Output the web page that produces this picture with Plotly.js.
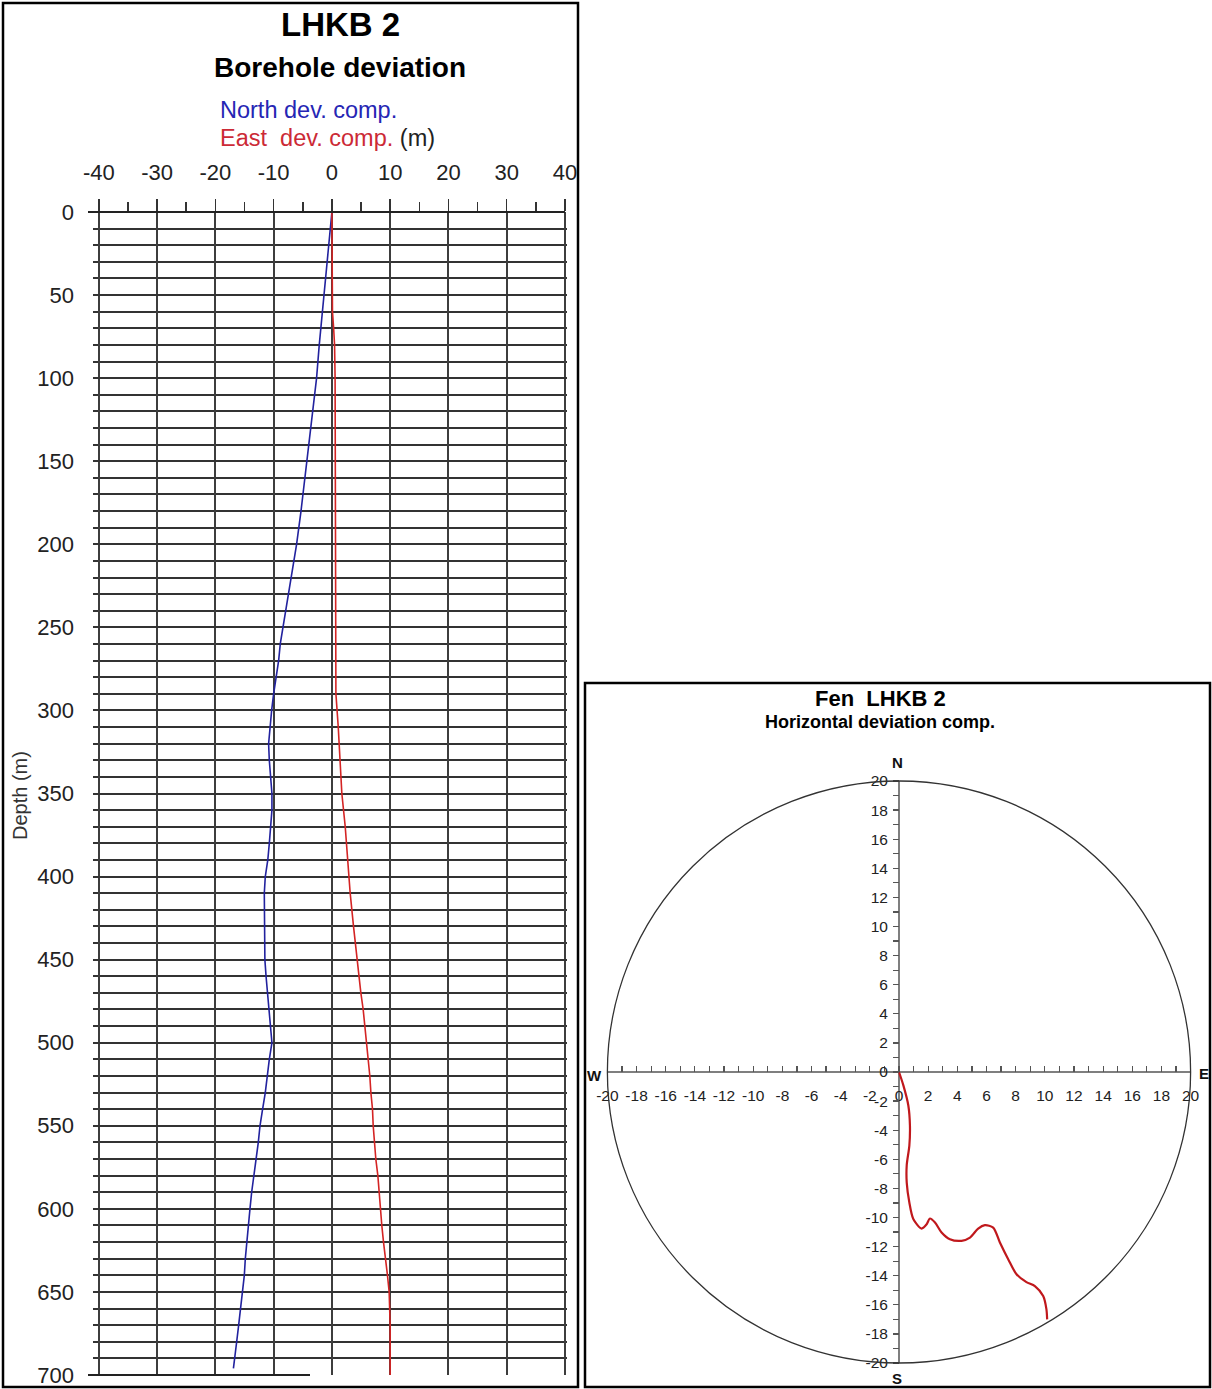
<!DOCTYPE html>
<html>
<head>
<meta charset="utf-8">
<script src="https://cdn.plot.ly/plotly-3.0.1.min.js"></script>
<style>html,body{margin:0;padding:0;background:#fff;}#chart{width:1212px;height:1389px;}</style>
</head>
<body>
<div id="chart"></div>
<script>
// ---- Left panel: deviation components vs depth ----
const depthNorth = [0,20,40,60,80,100,120,140,160,180,200,220,240,250,260,270,280,290,300,310,320,330,340,350,360,370,380,390,400,410,420,430,440,450,460,470,480,490,500,510,520,530,540,550,560,570,580,590,600,610,620,630,640,650,660,670,680,690,696];
const northDev = [0,-0.57,-1.03,-1.6,-2.17,-2.63,-3.3,-4.0,-4.57,-5.3,-6.06,-7.03,-7.9,-8.46,-8.86,-9.14,-9.6,-10.0,-10.34,-10.57,-10.86,-10.74,-10.46,-10.29,-10.29,-10.46,-10.74,-11.0,-11.43,-11.6,-11.6,-11.6,-11.6,-11.5,-11.3,-11.03,-10.74,-10.46,-10.29,-10.74,-11.03,-11.43,-11.89,-12.34,-12.63,-13.03,-13.43,-13.77,-14.06,-14.34,-14.63,-14.86,-15.03,-15.31,-15.6,-16.0,-16.34,-16.74,-16.9];
const depthEast = [0,60,70,80,100,150,200,240,270,290,310,330,350,370,390,410,430,450,470,480,490,500,510,520,530,540,550,560,570,580,590,600,610,620,630,640,650,660,670,700];
const eastDev = [0,0.1,0.3,0.46,0.55,0.57,0.6,0.6,0.69,0.69,1.09,1.37,1.71,2.29,2.69,3.14,3.71,4.29,4.97,5.37,5.66,6.0,6.29,6.51,6.69,6.97,7.09,7.31,7.54,7.89,8.11,8.29,8.57,8.86,9.26,9.54,9.83,9.94,10.0,10.0];

// ---- Right panel: plan view (East vs North) ----
const planEast = [0,0.3,0.64,0.75,0.71,0.53,0.53,0.71,0.98,1.55,1.9,2.12,2.47,2.92,3.49,4.29,4.87,5.43,5.89,6.46,6.92,7.49,8.06,8.74,9.32,9.89,10.11,10.16];
const planNorth = [0,-0.92,-2.3,-3.7,-5.06,-6.4,-7.6,-8.97,-10.1,-10.76,-10.46,-10.07,-10.34,-11.03,-11.49,-11.6,-11.38,-10.76,-10.53,-10.69,-11.72,-12.87,-13.9,-14.44,-14.71,-15.4,-16.3,-17.0];

// ---- tick labels ----
const devTickVals = [-40,-30,-20,-10,0,10,20,30,40];
const devTickText = ['-40','-30','-20','-10','0','10','20','30','40'];
const planTickVals = [-20,-18,-16,-14,-12,-10,-8,-6,-4,-2,0,2,4,6,8,10,12,14,16,18,20];
const planTickText = ['-20','-18','-16','-14','-12','-10','-8','-6','-4','-2','0','2','4','6','8','10','12','14','16','18','20'];

// text
const leftTitle = "LHKB 2";
const leftSubtitle = "Borehole deviation";
const northLabel = "North dev. comp.";
const eastLabel = "East  dev. comp.";
const unitLabel = "(m)";
const depthTitle = "Depth (m)";
const rightTitle = "Fen  LHKB 2";
const rightSubtitle = "Horizontal deviation comp.";
const compass = ["N", "S", "W", "E"];

const FONT = "Liberation Sans, Arial, sans-serif";
const W = 1212, H = 1389;
const px = v => v / W;
const py = v => 1 - v / H;

const traces = [
  {x: northDev, y: depthNorth, xaxis: 'x', yaxis: 'y', mode: 'lines',
   line: {color: '#22229e', width: 1.6}, hoverinfo: 'skip', showlegend: false},
  {x: eastDev, y: depthEast, xaxis: 'x', yaxis: 'y', mode: 'lines',
   line: {color: '#d42424', width: 1.6}, hoverinfo: 'skip', showlegend: false},
  {x: planEast, y: planNorth, xaxis: 'x2', yaxis: 'y2', mode: 'lines',
   line: {color: '#c0181c', width: 2.2, shape: 'spline', smoothing: 0.8}, hoverinfo: 'skip', showlegend: false}
];

const gridCol = '#333333';
const layout = {
  width: W, height: H,
  margin: {l: 0, r: 0, t: 0, b: 0},
  paper_bgcolor: '#ffffff', plot_bgcolor: 'rgba(0,0,0,0)',
  font: {family: FONT, color: '#222'},
  showlegend: false,
  xaxis: {
    domain: [px(93), px(566.7)], range: [-41, 40.3], anchor: 'y', side: 'top',
    tickmode: 'array', tickvals: devTickVals, ticktext: devTickText,
    ticks: 'outside', ticklen: 12, tickwidth: 1.5, tickcolor: '#333',
    showgrid: true, gridcolor: '#3d3d3d', gridwidth: 2, zeroline: false, showline: false,
    tickfont: {size: 22, color: '#222'}, ticklabelstandoff: 10,
    minor: {dtick: 5, tick0: 0, ticks: 'outside', ticklen: 9, tickwidth: 1.5, tickcolor: '#333', showgrid: false}
  },
  xaxis3: {
    overlaying: 'x', anchor: 'y', side: 'top', range: [-41, 40.3],
    dtick: 2.5, tick0: 0, ticks: 'outside', ticklen: 5, tickwidth: 1.5, tickcolor: '#333',
    showticklabels: false, showgrid: false, zeroline: false, showline: false
  },
  yaxis: {
    domain: [py(1375), py(212)], range: [700, 0], anchor: 'x',
    dtick: 50, tick0: 0, ticks: '', showgrid: true, gridcolor: gridCol, gridwidth: 2,
    zeroline: false, showline: false,
    tickfont: {size: 22, color: '#222'}, ticklabelstandoff: 18,
    minor: {dtick: 10, showgrid: true, gridcolor: gridCol, gridwidth: 2}
  },
  xaxis2: {
    domain: [px(600.1), px(1197.9)], range: [-20.5, 20.5], anchor: 'free', position: 0.22822,
    tickmode: 'array', tickvals: planTickVals, ticktext: planTickText,
    ticks: 'inside', ticklen: 6, tickwidth: 1.2, tickcolor: '#555',
    showgrid: false, zeroline: false, showline: false,
    tickfont: {size: 15.5, color: '#222'}, ticklabelstandoff: 12,
    minor: {dtick: 1, tick0: 0, ticks: 'inside', ticklen: 6, tickwidth: 1.2, tickcolor: '#555'}
  },
  yaxis2: {
    domain: [py(1370.3), py(773.7)], range: [-20.5, 20.5], anchor: 'free', position: 0.741745,
    side: 'left', tickmode: 'array', tickvals: planTickVals, ticktext: planTickText,
    ticks: 'outside', ticklen: 6, tickwidth: 1.2, tickcolor: '#555',
    showgrid: false, zeroline: false, showline: false,
    tickfont: {size: 15.5, color: '#222'}, ticklabelstandoff: 2,
    minor: {dtick: 1, tick0: 0, ticks: 'outside', ticklen: 6, tickwidth: 1.2, tickcolor: '#555'}
  },
  shapes: [
    // panel frames
    {type: 'rect', xref: 'paper', yref: 'paper', x0: px(3), x1: px(578), y0: py(1387), y1: py(3),
     line: {color: '#000', width: 2.5}},
    {type: 'rect', xref: 'paper', yref: 'paper', x0: px(585), x1: px(1210), y0: py(1387), y1: py(683),
     line: {color: '#000', width: 2.5}},
    // depth 0 and 700 border lines
    {type: 'line', xref: 'paper', yref: 'paper', x0: px(88), x1: px(565), y0: py(212), y1: py(212),
     line: {color: '#222', width: 2}},
    {type: 'line', xref: 'paper', yref: 'paper', x0: px(88), x1: px(310), y0: py(1375), y1: py(1375),
     line: {color: '#222', width: 2}},
    // compass circle and cross axes
    {type: 'circle', xref: 'x2', yref: 'y2', x0: -20, x1: 20, y0: -20, y1: 20,
     line: {color: '#333', width: 1.3}},
    {type: 'line', xref: 'x2', yref: 'y2', x0: -20, x1: 20, y0: 0, y1: 0,
     line: {color: '#555', width: 1.5}, layer: 'below'},
    {type: 'line', xref: 'x2', yref: 'y2', x0: 0, x1: 0, y0: -20, y1: 20,
     line: {color: '#555', width: 1.5}, layer: 'below'}
  ],
  annotations: [
    {text: '<b>' + leftTitle + '</b>', xref: 'paper', yref: 'paper', x: px(340), y: py(25),
     showarrow: false, font: {size: 33, color: '#000', family: FONT}, xanchor: 'center', yanchor: 'middle'},
    {text: '<b>' + leftSubtitle + '</b>', xref: 'paper', yref: 'paper', x: px(340), y: py(68),
     showarrow: false, font: {size: 28, color: '#000', family: FONT}, xanchor: 'center', yanchor: 'middle'},
    {text: northLabel, xref: 'paper', yref: 'paper', x: px(218), y: py(110),
     showarrow: false, font: {size: 23.5, color: '#2626b4', family: FONT}, xanchor: 'left', yanchor: 'middle'},
    {text: '<span style="color:#cc2a36">' + eastLabel + '</span> ' + unitLabel, xref: 'paper', yref: 'paper', x: px(218), y: py(138),
     showarrow: false, font: {size: 23.5, color: '#222', family: FONT}, xanchor: 'left', yanchor: 'middle'},
    {text: depthTitle, xref: 'paper', yref: 'paper', x: px(20), y: py(795), textangle: -90,
     showarrow: false, font: {size: 20, color: '#333', family: FONT}, xanchor: 'center', yanchor: 'middle'},
    {text: '<b>' + rightTitle + '</b>', xref: 'paper', yref: 'paper', x: px(880), y: py(698),
     showarrow: false, font: {size: 22, color: '#000', family: FONT}, xanchor: 'center', yanchor: 'middle'},
    {text: '<b>' + rightSubtitle + '</b>', xref: 'paper', yref: 'paper', x: px(880), y: py(722),
     showarrow: false, font: {size: 18, color: '#000', family: FONT}, xanchor: 'center', yanchor: 'middle'},
    {text: '<b>' + compass[0] + '</b>', xref: 'paper', yref: 'paper', x: px(897), y: py(762),
     showarrow: false, font: {size: 15, color: '#111', family: FONT}, xanchor: 'center', yanchor: 'middle'},
    {text: '<b>' + compass[1] + '</b>', xref: 'paper', yref: 'paper', x: px(897), y: py(1378),
     showarrow: false, font: {size: 15, color: '#111', family: FONT}, xanchor: 'center', yanchor: 'middle'},
    {text: '<b>' + compass[2] + '</b>', xref: 'paper', yref: 'paper', x: px(594), y: py(1075),
     showarrow: false, font: {size: 15, color: '#111', family: FONT}, xanchor: 'center', yanchor: 'middle'},
    {text: '<b>' + compass[3] + '</b>', xref: 'paper', yref: 'paper', x: px(1204), y: py(1073),
     showarrow: false, font: {size: 15, color: '#111', family: FONT}, xanchor: 'center', yanchor: 'middle'}
  ]
};

Plotly.newPlot('chart', traces, layout, {staticPlot: true, displayModeBar: false});
</script>
</body>
</html>
